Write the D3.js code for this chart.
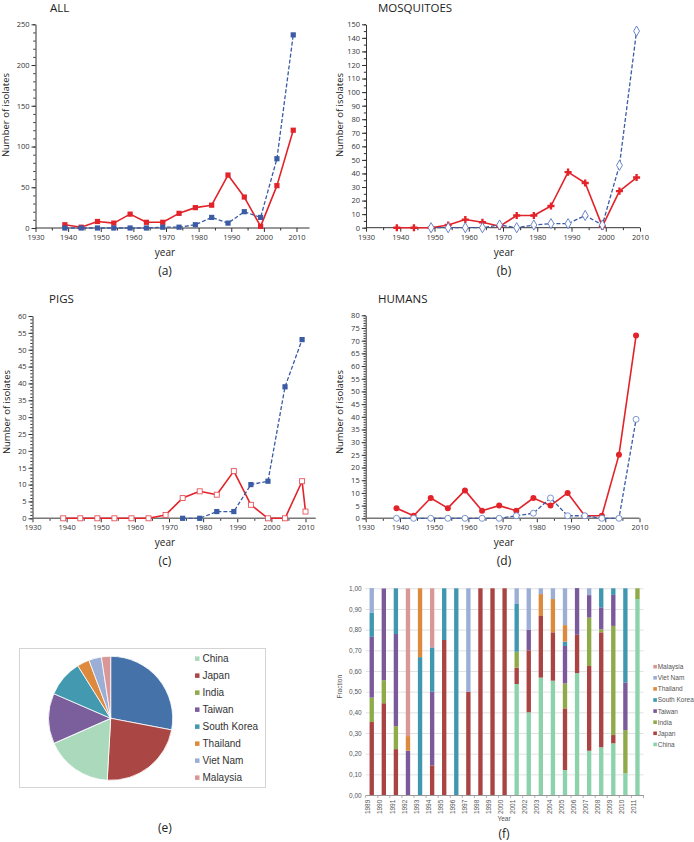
<!DOCTYPE html>
<html><head><meta charset="utf-8">
<script src="https://cdn.jsdelivr.net/npm/d3@7"></script>
<style>
body{margin:0;background:#fff;}
svg{display:block;font-family:"Open Sans",sans-serif;}
</style>
</head><body>
<svg id="c" width="694" height="842"></svg>
<script>
// ---------------- DATA ----------------
const lineYears = [1939,1944,1949,1954,1959,1964,1969,1974,1979,1984,1989,1994,1999,2004,2009];
const allRed  = [4,1,8,6,17,7,7,18,25,28,65,38,2,52,120];
const allBlue = [0,0,0,0,0,0,1,1,4,13,6,20,13,85,237];
const mosqRed = [0,0,0,2,6,4,1,9,9,16,41,33,1,27,37];
const mosqBlueYears = [1949,1954,1959,1964,1969,1974,1979,1984,1989,1994,1999,2004,2009];
const mosqBlue = [0,0,0,0,2,0,2,3,3,9,2,46,145];
const pigRedYears = [1939,1944,1949,1954,1959,1964,1969,1974,1979,1984,1989,1994,1999,2004,2009,2010];
const pigRed  = [0,0,0,0,0,0,1,6,8,7,14,4,0,0,11,2];
const pigBlueYears = [1974,1979,1984,1989,1994,1999,2004,2009];
const pigBlue = [0,0,2,2,10,11,39,53];
const humRed  = [4,1,8,4,11,3,5,3,8,5,10,1,1,25,72];
const humBlue = [0,0,0,0,0,0,0,1,2,8,1,1,0,0,39];

// pie (e): drawn clockwise from 12 o'clock
const pieNames  = ["Other","Japan","China","India","Taiwan","South Korea","Thailand","Viet Nam","Malaysia"];
const pieValues = [28.0,22.9,17.5,0.0,13.1,9.6,3.2,3.3,2.4];
const pieLegend = ["China","Japan","India","Taiwan","South Korea","Thailand","Viet Nam","Malaysia"];

// stacked bars (f)
const barYears = ["1989","1990","1991","1992","1993","1994","1995","1996","1997","1998","1999","2000","2001","2002","2003","2004","2005","2006","2007","2008","2009","2010","2011"];
const barCountries = ["China","Japan","India","Taiwan","South Korea","Thailand","Viet Nam","Malaysia"];
const fracChina    = [0,0,0,0,0,0,0,0,0,0,0,0,0.537,0.40,0.568,0.553,0.121,0.59,0.214,0.231,0.25,0.105,0.948];
const fracJapan    = [0.353,0.444,0.222,0,0,0.143,0.75,0,0.5,1,1,1,0.079,0.30,0.298,0.234,0.298,0.185,0.41,0.556,0.04,0,0];
const fracIndia    = [0.118,0.111,0.111,0,0,0,0,0,0,0,0,0,0.077,0,0,0,0.121,0,0.234,0.015,0.528,0.209,0.052];
const fracTaiwan   = [0.294,0.444,0.446,0.214,0,0.357,0,0,0,0,0,0,0,0.10,0,0,0.181,0.226,0.109,0.106,0.15,0.231,0];
const fracKorea    = [0.118,0,0.221,0,0.667,0.214,0.25,1,0,0,0,0,0.231,0,0,0,0.021,0,0,0.092,0.032,0.455,0];
const fracThailand = [0,0,0,0.071,0.333,0,0,0,0,0,0,0,0,0,0.106,0.161,0.08,0,0,0,0,0,0];
const fracVietNam  = [0.118,0,0,0,0,0,0,0,0.5,0,0,0,0.076,0.20,0.028,0.052,0.178,0,0.033,0,0,0,0];
const fracMalaysia = [0,0,0,0.714,0,0.286,0,0,0,0,0,0,0,0,0,0,0,0,0,0,0,0,0];

// ---------------- STYLE ----------------
const RED = "#e2232a", BLUE = "#3b5ba5";
const pieColors = {"Other":"#4672aa","Japan":"#aa4644","China":"#aad9bc","India":"#8faa48","Taiwan":"#7b5f9c","South Korea":"#4299b0","Thailand":"#de8a3e","Viet Nam":"#9aaed6","Malaysia":"#d99797"};
const barColors = {"China":"#8cd3ac","Japan":"#a94442","India":"#8faa48","Taiwan":"#7a5a9b","South Korea":"#3f98af","Thailand":"#dc8a3e","Viet Nam":"#9aaed6","Malaysia":"#d99797"};

const svg = d3.select("#c");

function drawMarkers(g, pts, kind, color){
  pts.forEach(p=>{
    if(kind==="sqFill"){
      g.append("rect").attr("x",p[0]-2.6).attr("y",p[1]-2.6).attr("width",5.2).attr("height",5.2).attr("fill",color);
    } else if(kind==="sqOpen"){
      g.append("rect").attr("x",p[0]-2.5).attr("y",p[1]-2.5).attr("width",5).attr("height",5).attr("fill","#fff").attr("stroke",color).attr("stroke-width",0.9);
    } else if(kind==="cross"){
      g.append("path").attr("d",d3.symbol(d3.symbolCross,28)()).attr("transform",`translate(${p[0]},${p[1]})`).attr("fill",color);
    } else if(kind==="diaOpen"){
      g.append("path").attr("d",d3.symbol(d3.symbolDiamond,30)()).attr("transform",`translate(${p[0]},${p[1]})`).attr("fill","#fff").attr("stroke",color).attr("stroke-width",0.9);
    } else if(kind==="circFill"){
      g.append("circle").attr("cx",p[0]).attr("cy",p[1]).attr("r",3).attr("fill",color);
    } else if(kind==="circOpen"){
      g.append("circle").attr("cx",p[0]).attr("cy",p[1]).attr("r",3).attr("fill","#fff").attr("stroke",color).attr("stroke-width",0.9);
    }
  });
}

function panel(cfg){
  const g = svg.append("g");
  const x = d3.scaleLinear().domain([1930,2010]).range([cfg.x0,cfg.x1]);
  const y = d3.scaleLinear().domain([0,cfg.yMax]).range([cfg.y0,cfg.y1]);

  g.append("g").attr("transform",`translate(${cfg.x0},0)`)
    .call(d3.axisLeft(y).tickValues(d3.range(0,cfg.yMax+0.01,cfg.yMinor)).tickSize(2.2).tickSizeOuter(0).tickFormat(""))
    .call(a=>{a.select(".domain").remove(); a.selectAll("line").attr("stroke","#333");});
  const ya = g.append("g").attr("transform",`translate(${cfg.x0},0)`)
    .call(d3.axisLeft(y).tickValues(d3.range(0,cfg.yMax+0.01,cfg.yMajor)).tickSize(4).tickSizeOuter(0).tickPadding(2));
  ya.select(".domain").attr("stroke","#333");
  ya.selectAll("line").attr("stroke","#333");
  ya.selectAll("text").attr("font-size",7.5).attr("fill","#333").attr("font-family","Open Sans");

  g.append("g").attr("transform",`translate(0,${cfg.y0})`)
    .call(d3.axisBottom(x).tickValues(d3.range(1935,2010,10)).tickSize(2.5).tickSizeOuter(0).tickFormat(""))
    .call(a=>{a.select(".domain").remove(); a.selectAll("line").attr("stroke","#333");});
  const xa = g.append("g").attr("transform",`translate(0,${cfg.y0})`)
    .call(d3.axisBottom(x).tickValues(d3.range(1930,2011,10)).tickFormat(d3.format("d")).tickSize(4).tickSizeOuter(0).tickPadding(2.5));
  xa.select(".domain").remove();
  xa.selectAll("line").attr("stroke","#333");
  xa.selectAll("text").attr("font-size",7.5).attr("fill","#333").attr("font-family","Open Sans");
  g.append("line").attr("x1",x(1930)).attr("x2",x(cfg.xEnd)).attr("y1",cfg.y0).attr("y2",cfg.y0)
    .attr("stroke",cfg.axisColor||"#333").attr("stroke-width",cfg.axisWidth||1);

  const line = d3.line().x(d=>x(d[0])).y(d=>y(d[1]));
  const layers = [];
  cfg.series.forEach(s=>{
    const pts = s.years.map((yr,i)=>[yr,s.values[i]]);
    g.append("path").attr("d",line(pts)).attr("fill","none").attr("stroke",s.color)
      .attr("stroke-width",s.dashed?1.3:1.6).attr("stroke-dasharray",s.dashed?"4,2":null)
      .attr("stroke-linejoin","round");
    layers.push([pts.map(p=>[x(p[0]),y(p[1])]),s.marker,s.mcolor||s.color]);
  });
  layers.forEach(l=>drawMarkers(g,l[0],l[1],l[2]));

  g.append("text").attr("x",cfg.titleX).attr("y",cfg.titleY).text(cfg.title)
    .attr("font-size",11.5).attr("fill","#222");
  if(cfg.ylab){
    g.append("text").attr("transform",`translate(${cfg.ylabX},${cfg.ylabY}) rotate(-90)`)
      .attr("text-anchor","middle").attr("font-size",9.5).attr("fill","#222").text("Number of isolates");
  }
  g.append("text").attr("x",cfg.labX).attr("y",cfg.y0+28).attr("text-anchor","middle")
    .attr("font-size",10).attr("fill","#222").text("year");
  g.append("text").attr("x",cfg.labX).attr("y",cfg.y0+47).attr("text-anchor","middle")
    .attr("font-size",12).attr("fill","#222").text(cfg.letter);
}

panel({title:"ALL",titleX:50,titleY:12,x0:35.5,x1:296.5,xEnd:2014,y0:228,y1:24.3,yMax:250,yMajor:50,yMinor:10,
  ylab:true,ylabX:9,ylabY:115,labX:165,letter:"(a)",
  series:[
    {years:lineYears,values:allRed,color:RED,marker:"sqFill"},
    {years:lineYears,values:allBlue,color:BLUE,dashed:true,marker:"sqFill"}
  ]});
panel({title:"MOSQUITOES",titleX:378,titleY:12,x0:366,x1:640,xEnd:2010,y0:227.7,y1:24.3,yMax:150,yMajor:10,yMinor:5,
  ylab:true,ylabX:343,ylabY:115,labX:504,letter:"(b)",
  series:[
    {years:lineYears,values:mosqRed,color:RED,marker:"cross"},
    {years:mosqBlueYears,values:mosqBlue,color:BLUE,dashed:true,marker:"diaOpen",mcolor:"#5b7bc4"}
  ]});
panel({title:"PIGS",titleX:49,titleY:303,x0:32.5,x1:305.5,xEnd:2013,y0:518.3,y1:316,yMax:60,yMajor:5,yMinor:1,
  ylab:true,ylabX:10,ylabY:412,labX:165,letter:"(c)",axisColor:"#777",axisWidth:1.6,
  series:[
    {years:pigRedYears,values:pigRed,color:RED,marker:"sqOpen",mcolor:"#e5545a"},
    {years:pigBlueYears,values:pigBlue,color:BLUE,dashed:true,marker:"sqFill"}
  ]});
panel({title:"HUMANS",titleX:378,titleY:303,x0:365.7,x1:639.5,xEnd:2010,y0:518.3,y1:315.3,yMax:80,yMajor:5,yMinor:1,
  ylab:true,ylabX:343,ylabY:412,labX:504,letter:"(d)",axisColor:"#777",axisWidth:1.6,
  series:[
    {years:lineYears,values:humRed,color:RED,marker:"circFill"},
    {years:lineYears,values:humBlue,color:BLUE,dashed:true,marker:"circOpen",mcolor:"#6e8bcb"}
  ]});

// ---------------- PIE (e) ----------------
(function(){
  const g = svg.append("g").attr("font-family","'Liberation Sans',Arial,sans-serif");
  g.append("rect").attr("x",19.5).attr("y",648.5).attr("width",246).attr("height",139)
    .attr("fill","#fff").attr("stroke","#d4d4d4").attr("stroke-width",1);
  const pie = d3.pie().sort(null).value(d=>d.v);
  const arcs = pie(pieNames.map((n,i)=>({n:n,v:pieValues[i]})));
  const arc = d3.arc().innerRadius(0).outerRadius(62);
  const pg = g.append("g").attr("transform","translate(110.7,718.3)");
  pg.selectAll("path").data(arcs).join("path").attr("d",arc)
    .attr("fill",d=>pieColors[d.data.n]).attr("stroke","#fff").attr("stroke-width",0.8);
  const lg = g.append("g");
  pieLegend.forEach((n,i)=>{
    const cy = 658.7 + i*17;
    lg.append("rect").attr("x",195).attr("y",cy-2.3).attr("width",4.5).attr("height",4.5).attr("fill",pieColors[n]);
    lg.append("text").attr("x",202.5).attr("y",cy+3.6).attr("font-size",10).attr("fill","#333").text(n);
  });
  svg.append("text").attr("x",165).attr("y",832).attr("text-anchor","middle")
    .attr("font-size",12).attr("fill","#222").text("(e)");
})();

// ---------------- STACKED BARS (f) ----------------
(function(){
  const g = svg.append("g").attr("font-family","'Liberation Sans',Arial,sans-serif");
  const fracs = {"China":fracChina,"Japan":fracJapan,"India":fracIndia,"Taiwan":fracTaiwan,"South Korea":fracKorea,"Thailand":fracThailand,"Viet Nam":fracVietNam,"Malaysia":fracMalaysia};
  const rows = barYears.map((yr,i)=>{const o={year:yr}; barCountries.forEach(c=>o[c]=fracs[c][i]); return o;});
  const x = d3.scaleBand().domain(barYears).range([365.7,643.5]).paddingInner(0.64).paddingOuter(0.32);
  const y = d3.scaleLinear().domain([0,1]).range([795,588.3]);
  const ga = g.append("g").attr("transform","translate(365.7,0)")
    .call(d3.axisLeft(y).tickValues(d3.range(0,1.001,0.1)).tickSize(-277.8).tickPadding(4)
      .tickFormat(d=>d3.format(".2f")(d).replace(".",",")));
  ga.select(".domain").remove();
  ga.selectAll("line").attr("stroke","#d9d9d9").attr("stroke-width",0.8);
  ga.selectAll("text").attr("font-size",6.5).attr("fill","#555");
  const stack = d3.stack().keys(barCountries)(rows);
  g.append("g").selectAll("g").data(stack).join("g").attr("fill",d=>barColors[d.key])
    .selectAll("rect").data(d=>d).join("rect")
    .attr("x",d=>x(d.data.year)).attr("width",x.bandwidth())
    .attr("y",d=>y(d[1])).attr("height",d=>Math.max(0,y(d[0])-y(d[1])));
  const xa = g.append("g").attr("transform","translate(0,795)")
    .call(d3.axisBottom(x).tickSize(0).tickSizeOuter(0).tickPadding(4));
  xa.select(".domain").attr("stroke","#999");
  xa.selectAll("text").attr("font-size",6.5).attr("fill","#555")
    .attr("transform","rotate(-90)").attr("text-anchor","end").attr("dx","-0.1em").attr("dy","-0.55em")
    .attr("x",-4).attr("y",x.bandwidth()/2);
  const bounds = barYears.map(yr=>x(yr)-x.step()*x.paddingInner()/2).concat([x(barYears[barYears.length-1])+x.bandwidth()+x.step()*x.paddingInner()/2]);
  g.append("g").selectAll("line").data(bounds).join("line")
    .attr("x1",d=>d).attr("x2",d=>d).attr("y1",795).attr("y2",798).attr("stroke","#999").attr("stroke-width",0.8);
  g.append("text").attr("transform","translate(342,686.7) rotate(-90)").attr("text-anchor","middle")
    .attr("font-size",6.5).attr("fill","#555").text("Fraction");
  g.append("text").attr("x",504).attr("y",821).attr("text-anchor","middle")
    .attr("font-size",6.5).attr("fill","#555").text("Year");
  svg.append("text").attr("x",504).attr("y",838).attr("text-anchor","middle")
    .attr("font-size",12).attr("fill","#222").text("(f)");
  const legOrder = barCountries.slice().reverse();
  legOrder.forEach((n,i)=>{
    const cy = 666.7 + i*11.1;
    g.append("rect").attr("x",653.3).attr("y",cy-1.8).attr("width",3.6).attr("height",3.6).attr("fill",barColors[n]);
    g.append("text").attr("x",657.7).attr("y",cy+2.4).attr("font-size",6.5).attr("fill","#555").text(n);
  });
})();
</script>
</body></html>
